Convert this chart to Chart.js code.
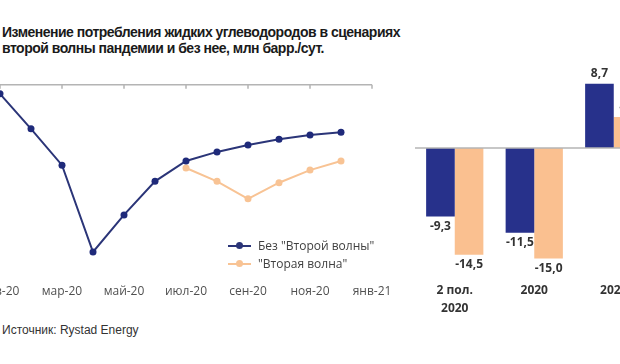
<!DOCTYPE html>
<html>
<head>
<meta charset="utf-8">
<script src="https://cdn.jsdelivr.net/npm/chart.js@4.4.1/dist/chart.umd.min.js"></script>
<style>
  body { margin: 0; width: 620px; height: 364px; overflow: hidden; background: #fff; position: relative; font-family: "Liberation Sans", Arial, sans-serif; }
  #title { position: absolute; left: 2px; top: 24px; font-weight: bold; font-size: 14px; letter-spacing: -0.5px; line-height: 16px; color: #1a1a1a; }
  #source { position: absolute; left: 2px; top: 323px; font-size: 12px; color: #333; }
  #lineWrap { position: absolute; left: -40px; top: 0; width: 442px; height: 310px; }
  #barWrap { position: absolute; left: 400px; top: 0; width: 260px; height: 340px; }
  #legend { position: absolute; left: 228px; top: 237px; font-family: "Open Sans", sans-serif; font-size: 12px; color: #404040; }
  .item { height: 18px; line-height: 18px; white-space: nowrap; }
  .sample { display: inline-block; position: relative; width: 23px; height: 2px; vertical-align: middle; margin-right: 7px; top: -1px; }
  .sample i { position: absolute; left: 8px; top: -3px; width: 7px; height: 7px; border-radius: 50%; }
</style>
</head>
<body>
<div id="title">Изменение потребления жидких углеводородов в сценариях<br>второй волны пандемии и без нее, млн барр./сут.</div>
<div id="lineWrap"><canvas id="lineChart" width="442" height="310"></canvas></div>
<div id="barWrap"><canvas id="barChart" width="260" height="340"></canvas></div>
<div id="legend"></div>
<div id="source">Источник: Rystad Energy</div>
<script>
// Monthly data (line chart)
const months = ["янв-20", "фев-20", "мар-20", "апр-20", "май-20", "июн-20", "июл-20",
                "авг-20", "сен-20", "окт-20", "ноя-20", "дек-20", "янв-21"];
const noSecondWave = [-1.3, -6.3, -11.5, -23.9, -18.6, -13.8, -10.9, -9.6, -8.6, -7.8, -7.2, -6.8, null];
const secondWave = [null, null, null, null, null, null, -11.9, -13.8, -16.3, -14.0, -12.2, -10.9, null];

// Period totals (bar chart)
const periods = [["2 пол.", "2020"], "2020", "2021"];
const barNoWave = [-9.3, -11.5, 8.7];
const barWave = [-14.5, -15.0, 4.2];

const blue = "#27318b";
const lineBlue = "#2b3578";
const peach = "#f8c394";

// Legend
const legendItems = [
    { label: 'Без "Второй волны"', color: lineBlue },
    { label: '"Вторая волна"', color: peach }
];
document.getElementById("legend").innerHTML = legendItems.map(it =>
    '<div class="item"><span class="sample" style="background:' + it.color + '"><i style="background:' + it.color +
    '"></i></span>' + it.label.replace(/"/g, "&quot;") + '</div>').join("");

// Axis line at zero with small ticks every second month
const topAxis = {
    id: "topAxis",
    afterDraw(chart) {
        const { ctx, chartArea, scales } = chart;
        const y = scales.y.getPixelForValue(0);
        ctx.save();
        ctx.strokeStyle = "#b4b4b4";
        ctx.lineWidth = 1.5;
        ctx.beginPath();
        ctx.moveTo(chartArea.left, y);
        ctx.lineTo(chartArea.right, y);
        for (let i = 0; i < months.length; i += 2) {
            const x = scales.x.getPixelForValue(i);
            ctx.moveTo(x, y);
            ctx.lineTo(x, y + 4);
        }
        ctx.stroke();
        ctx.restore();
    }
};

new Chart(document.getElementById("lineChart"), {
    type: "line",
    data: {
        labels: months,
        datasets: [{
            label: 'Без "Второй волны"',
            data: noSecondWave,
            borderColor: lineBlue,
            backgroundColor: "#1f2a7a",
            borderWidth: 2,
            pointRadius: 3.5,
            pointBorderWidth: 0,
            tension: 0
        }, {
            label: '"Вторая волна"',
            data: secondWave,
            borderColor: peach,
            backgroundColor: peach,
            borderWidth: 2,
            pointRadius: 3.5,
            pointBorderWidth: 0,
            tension: 0
        }]
    },
    options: {
        responsive: false,
        animation: false,
        layout: { padding: { left: 40, right: 30, top: 84.7, bottom: 0 } },
        plugins: { legend: { display: false }, tooltip: { enabled: false } },
        scales: {
            x: {
                grid: { display: false },
                border: { display: false },
                afterFit(scale) { scale.height = 310 - 266.7; },
                ticks: {
                    autoSkip: false,
                    maxRotation: 0,
                    padding: 10,
                    color: "#505050",
                    font: { family: "Open Sans", size: 12 },
                    callback: (v, i) => (i % 2 === 0 ? months[i] : "")
                }
            },
            y: { display: false, min: -26, max: 0 }
        }
    },
    plugins: [topAxis]
});

// Zero line and value labels for the bar chart
const barExtras = {
    id: "barExtras",
    afterDraw(chart) {
        const { ctx, chartArea, scales } = chart;
        const y0 = scales.y.getPixelForValue(0);
        ctx.save();
        ctx.strokeStyle = "#b4b4b4";
        ctx.lineWidth = 1.5;
        ctx.beginPath();
        ctx.moveTo(chartArea.left, y0);
        ctx.lineTo(chartArea.right, y0);
        ctx.stroke();

        ctx.fillStyle = "#333";
        ctx.font = "bold 12px 'Open Sans'";
        ctx.textAlign = "center";
        ctx.textBaseline = "middle";
        chart.data.datasets.forEach((ds, di) => {
            chart.getDatasetMeta(di).data.forEach((bar, i) => {
                const v = ds.data[i];
                const text = v.toFixed(1).replace(".", ",");
                ctx.fillText(text, bar.x, v < 0 ? bar.y + 10 : bar.y - 10);
            });
        });
        ctx.restore();
    }
};

new Chart(document.getElementById("barChart"), {
    type: "bar",
    data: {
        labels: periods,
        datasets: [{
            label: 'Без "Второй волны"',
            data: barNoWave,
            backgroundColor: blue,
            categoryPercentage: 0.72,
            barPercentage: 1.0
        }, {
            label: '"Вторая волна"',
            data: barWave,
            backgroundColor: "#fac090",
            categoryPercentage: 0.72,
            barPercentage: 1.0
        }]
    },
    options: {
        responsive: false,
        animation: false,
        layout: { padding: { left: 15, right: 6.5, top: 59.4, bottom: 0 } },
        plugins: { legend: { display: false }, tooltip: { enabled: false } },
        scales: {
            x: {
                grid: { display: false },
                border: { display: false },
                afterFit(scale) { scale.height = 340 - 277; },
                ticks: {
                    autoSkip: false,
                    maxRotation: 0,
                    padding: -3,
                    color: "#333",
                    font: { family: "Open Sans", size: 12, weight: "bold", lineHeight: 1.5 }
                }
            },
            y: { display: false, min: -17.5, max: 12 }
        }
    },
    plugins: [barExtras]
});
</script>
</body>
</html>
